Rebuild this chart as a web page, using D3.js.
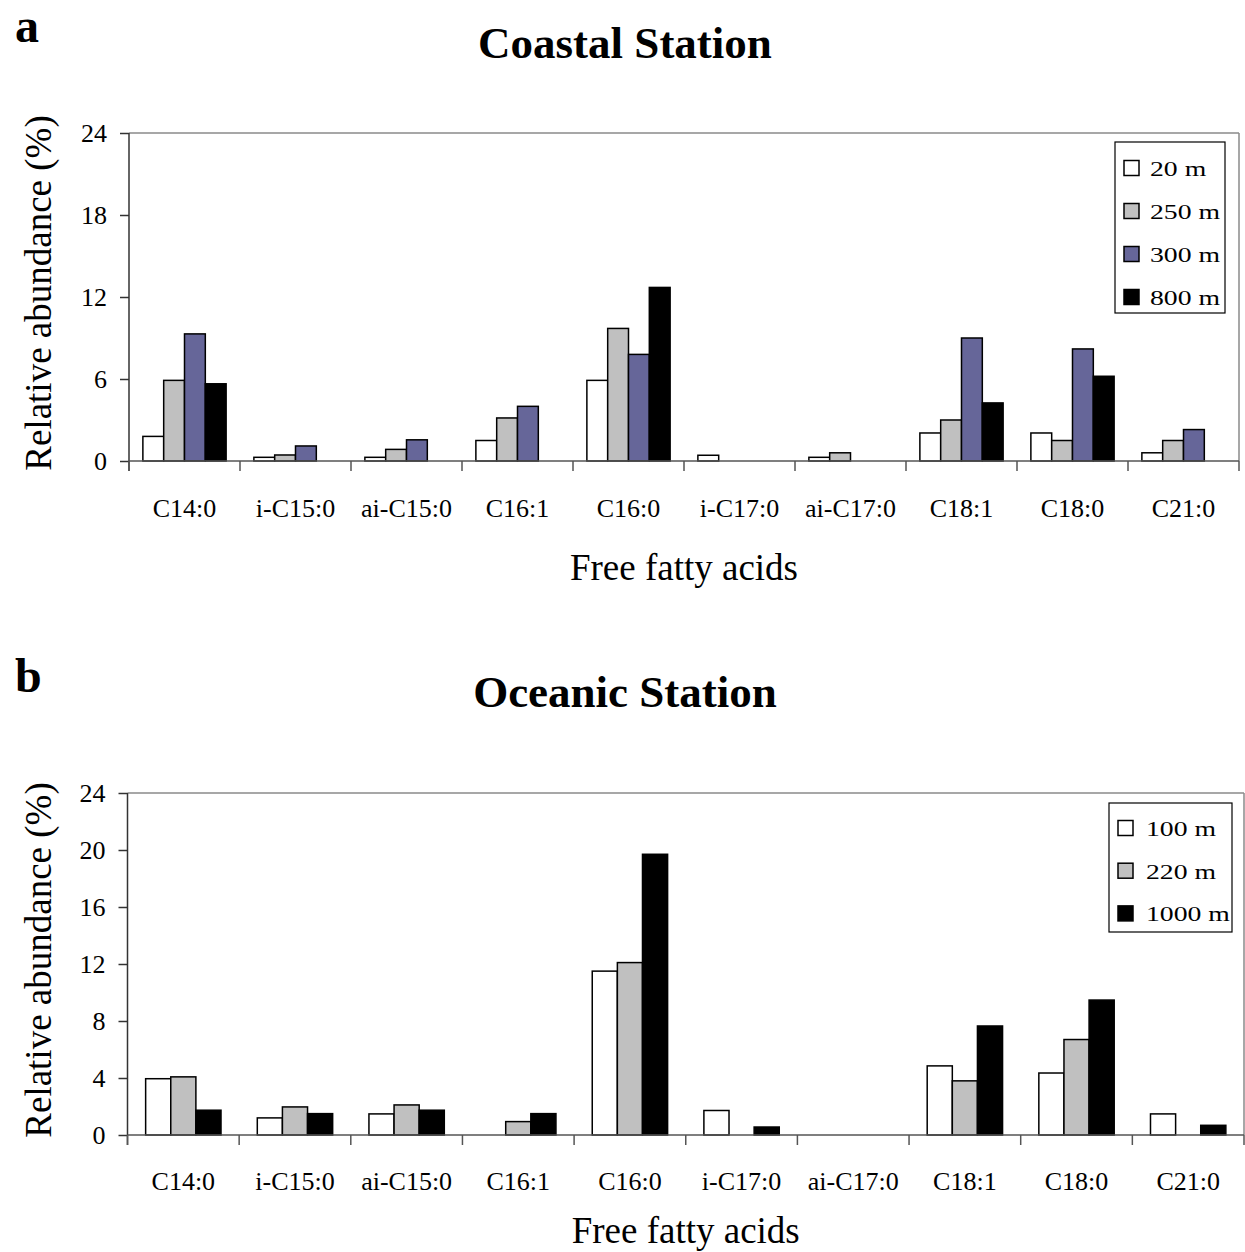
<!DOCTYPE html>
<html>
<head>
<meta charset="utf-8">
<script src="https://cdn.jsdelivr.net/npm/d3@7"></script>
<style>
  html, body { margin: 0; padding: 0; background: #fff; }
  svg { display: block; }
  text { font-family: "Liberation Serif", "Times New Roman", serif; fill: #000; }
</style>
</head>
<body>
<svg id="chart" width="1245" height="1252"></svg>
<script>
// ---- data ----
const categories = ["C14:0","i-C15:0","ai-C15:0","C16:1","C16:0","i-C17:0","ai-C17:0","C18:1","C18:0","C21:0"];

const coastalSeries = ["20 m","250 m","300 m","800 m"];
const coastal20  = [1.8, 0.27, 0.27, 1.5, 5.9, 0.42, 0.27, 2.05, 2.05, 0.6];
const coastal250 = [5.9, 0.44, 0.85, 3.15, 9.7, 0, 0.6, 3.0, 1.5, 1.5];
const coastal300 = [9.3, 1.1, 1.55, 4.0, 7.8, 0, 0, 9.0, 8.2, 2.3];
const coastal800 = [5.65, 0, 0, 0, 12.7, 0, 0, 4.25, 6.2, 0];
const coastalTicks = [0, 6, 12, 18, 24];

const oceanicSeries = ["100 m","220 m","1000 m"];
const oceanic100  = [3.95, 1.2, 1.48, 0, 11.5, 1.72, 0, 4.85, 4.35, 1.48];
const oceanic220  = [4.08, 1.97, 2.11, 0.94, 12.1, 0, 0, 3.8, 6.7, 0];
const oceanic1000 = [1.74, 1.5, 1.74, 1.5, 19.7, 0.56, 0, 7.65, 9.47, 0.68];
const oceanicTicks = [0, 4, 8, 12, 16, 20, 24];

const svg = d3.select("#chart");

function panel(cfg) {
  const {left, right, top, bottom, series, values, colors, ticks, groupFrac,
         letter, letterY, title, titleY, xLabelOff, xTitleY, legend} = cfg;
  const g = svg.append("g");

  const x0 = d3.scaleBand().domain(categories).range([left, right]).paddingInner(0).paddingOuter(0);
  const bw = x0.bandwidth();
  const gap = bw * (1 - groupFrac) / 2;
  const x1 = d3.scaleBand().domain(series).range([gap, bw - gap]).padding(0);
  const y = d3.scaleLinear().domain([0, 24]).range([bottom, top]);

  // frame top & right
  g.append("line").attr("x1", left).attr("x2", right).attr("y1", top).attr("y2", top)
    .attr("stroke", "#8a8a8a").attr("stroke-width", 1.5);
  g.append("line").attr("x1", right).attr("x2", right).attr("y1", top).attr("y2", bottom)
    .attr("stroke", "#8a8a8a").attr("stroke-width", 1.5);

  // bars
  series.forEach((s, si) => {
    g.append("g").selectAll("rect")
      .data(values[si].map((v, i) => ({c: categories[i], v})).filter(d => d.v > 0))
      .join("rect")
      .attr("x", d => x0(d.c) + x1(s))
      .attr("width", x1.bandwidth())
      .attr("y", d => y(d.v))
      .attr("height", d => y(0) - y(d.v))
      .attr("fill", colors[si])
      .attr("stroke", "#000")
      .attr("stroke-width", 1.5);
  });

  // y axis
  const ya = g.append("g").attr("transform", `translate(${left},0)`)
    .call(d3.axisLeft(y).tickValues(ticks).tickSize(9).tickPadding(13).tickFormat(d3.format("d")));
  ya.select(".domain").attr("stroke", "#333").attr("stroke-width", 1.5)
    .attr("d", `M0,${top}V${bottom + 10}`);
  ya.selectAll(".tick line").attr("stroke", "#333").attr("stroke-width", 1.5);
  ya.selectAll("text").style("font-family", '"Liberation Serif", serif').style("font-size", "26px");

  // x axis (labels)
  const xa = g.append("g").attr("transform", `translate(0,${bottom})`)
    .call(d3.axisBottom(x0).tickSize(0).tickPadding(0));
  xa.select(".domain").attr("stroke", "#555").attr("stroke-width", 1.5)
    .attr("d", `M${left},0H${right}`);
  xa.selectAll("text").attr("y", xLabelOff).attr("dy", 0)
    .style("font-family", '"Liberation Serif", serif').style("font-size", "26px");
  // boundary ticks
  const bounds = categories.map(c => x0(c)).concat([right]);
  xa.append("g").selectAll("line").data(bounds).join("line")
    .attr("x1", d => d).attr("x2", d => d).attr("y1", 0).attr("y2", 10)
    .attr("stroke", "#555").attr("stroke-width", 1.5);

  // titles
  g.append("text").attr("x", 15).attr("y", letterY).text(letter)
    .style("font-size", "48px").style("font-weight", "bold");
  g.append("text").attr("x", 625).attr("y", titleY).attr("text-anchor", "middle").text(title)
    .style("font-size", "45px").style("font-weight", "bold");
  g.append("text").attr("x", (left + right) / 2).attr("y", xTitleY).attr("text-anchor", "middle")
    .text("Free fatty acids").style("font-size", "37px");
  g.append("text")
    .attr("transform", `translate(51,${(top + bottom) / 2 - 4}) rotate(-90)`)
    .attr("text-anchor", "middle").text("Relative abundance (%)").style("font-size", "37px");

  // legend
  const lg = g.append("g");
  lg.append("rect").attr("x", legend.x).attr("y", legend.y).attr("width", legend.w).attr("height", legend.h)
    .attr("fill", "#fff").attr("stroke", "#000").attr("stroke-width", 1.2);
  series.forEach((s, si) => {
    const cy = legend.y0 + si * legend.step;
    lg.append("rect").attr("x", legend.sx).attr("y", cy - 7.5).attr("width", 15).attr("height", 15)
      .attr("fill", colors[si]).attr("stroke", "#000").attr("stroke-width", 1.5);
    lg.append("text").attr("transform", `translate(${legend.tx},${cy + 8}) scale(1.26,1)`)
      .text(s).style("font-size", "22px");
  });
}

panel({
  left: 129, right: 1239, top: 133, bottom: 461,
  series: coastalSeries,
  values: [coastal20, coastal250, coastal300, coastal800],
  colors: ["#ffffff", "#c0c0c0", "#666699", "#000000"],
  ticks: coastalTicks, groupFrac: 0.75,
  letter: "a", letterY: 42, title: "Coastal Station", titleY: 58,
  xLabelOff: 56, xTitleY: 580,
  legend: {x: 1115, y: 142, w: 110, h: 171, y0: 168, step: 43, sx: 1124, tx: 1150}
});

panel({
  left: 127.5, right: 1244, top: 793, bottom: 1135,
  series: oceanicSeries,
  values: [oceanic100, oceanic220, oceanic1000],
  colors: ["#ffffff", "#c0c0c0", "#000000"],
  ticks: oceanicTicks, groupFrac: 0.675,
  letter: "b", letterY: 692, title: "Oceanic Station", titleY: 707,
  xLabelOff: 55, xTitleY: 1243,
  legend: {x: 1109, y: 803, w: 123, h: 129, y0: 828, step: 42.7, sx: 1118, tx: 1146}
});
</script>
</body>
</html>
